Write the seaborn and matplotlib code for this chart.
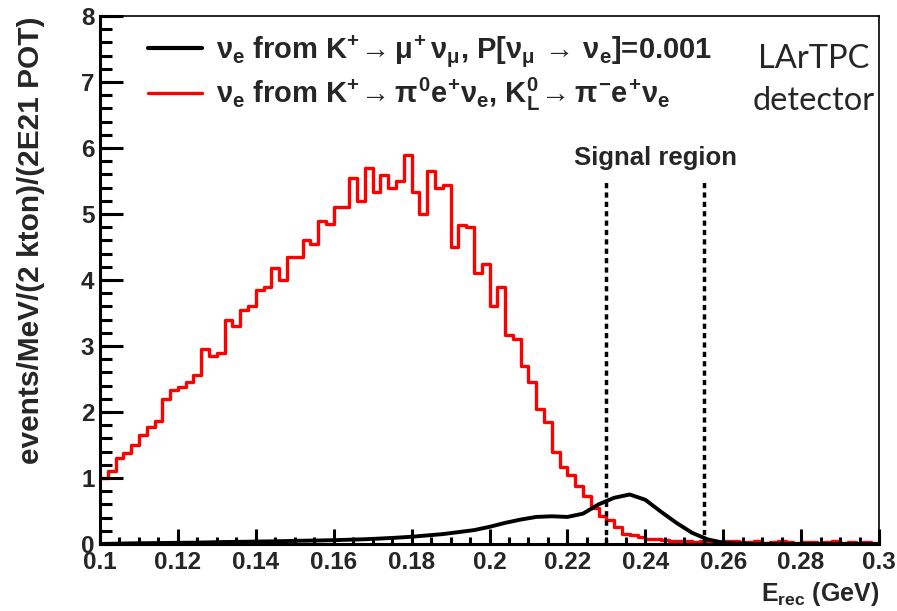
import numpy as np
import pandas as pd
import seaborn as sns
import matplotlib
matplotlib.use("Agg")
import matplotlib.pyplot as plt
from matplotlib.lines import Line2D

# ---------------- data ----------------
e_min, e_max, n_red_bins = 0.1, 0.3, 100
y_max = 8
red_values = [
    1.0, 1.1, 1.3, 1.38, 1.5, 1.65, 1.78, 1.87, 2.2, 2.33,
    2.38, 2.45, 2.56, 2.95, 2.85, 2.9, 3.4, 3.3, 3.55, 3.6,
    3.85, 3.9, 4.18, 4.0, 4.35, 4.35, 4.6, 4.55, 4.9, 4.85,
    5.1, 5.1, 5.55, 5.2, 5.7, 5.34, 5.59, 5.4, 5.5, 5.89,
    5.34, 5.0, 5.65, 5.4, 5.44, 4.5, 4.83, 4.8, 4.1, 4.25,
    3.6, 3.9, 3.17, 3.1, 2.69, 2.45, 2.05, 1.85, 1.4, 1.17,
    1.05, 0.88, 0.72, 0.55, 0.42, 0.36, 0.26, 0.15, 0.13, 0.1,
    0.08, 0.07, 0.06, 0.05, 0.04, 0.05, 0.03, 0.04, 0.04, 0.03,
    0.05, 0.04, 0.03, 0.03, 0.04, 0.02, 0.03, 0.04, 0.03, 0.02,
    0.03, 0.03, 0.02, 0.03, 0.04, 0.02, 0.03, 0.02, 0.03, 0.02,
]
black_energy_step = 0.004
black_values = [
    0.0, 0.005, 0.01, 0.012, 0.015, 0.018, 0.02, 0.025, 0.03, 0.033,
    0.037, 0.04, 0.045, 0.05, 0.053, 0.058, 0.065, 0.072, 0.083, 0.095,
    0.11, 0.13, 0.15, 0.18, 0.21, 0.26, 0.32, 0.37, 0.41, 0.42,
    0.41, 0.46, 0.60, 0.70, 0.75, 0.67, 0.49, 0.32, 0.17, 0.07,
    0.02, 0.005, 0.0, 0.0, 0.0, 0.0, 0.0, 0.0, 0.0, 0.0, 0.0,
]
signal_region = [0.23, 0.255]
signal_top = 5.52
x_ticks = [0.1, 0.12, 0.14, 0.16, 0.18, 0.2, 0.22, 0.24, 0.26, 0.28, 0.3]
x_ticklabels = ["0.1", "0.12", "0.14", "0.16", "0.18", "0.2", "0.22",
                "0.24", "0.26", "0.28", "0.3"]
x_minor_step = 0.005
y_ticks = [0, 1, 2, 3, 4, 5, 6, 7, 8]
y_ticklabels = ["0", "1", "2", "3", "4", "5", "6", "7", "8"]
y_minor_step = 0.2
label_black = (r"$\nu_{e}$ from K$^{+}\!\rightarrow\mu^{+}\,\nu_{\mu}$, "
               r"P[$\nu_{\mu}\,\rightarrow\,\nu_{e}$]=0.001")
label_red = (r"$\nu_{e}$ from K$^{+}\!\rightarrow\pi^{0}e^{+}\nu_{e}$, "
             r"K$^{0}_{L}\!\rightarrow\pi^{-}e^{+}\nu_{e}$")

bin_w = (e_max - e_min) / n_red_bins
centers = e_min + bin_w * (np.arange(n_red_bins) + 0.5)
red_df = pd.DataFrame({"E": centers, "w": red_values})
black_df = pd.DataFrame({
    "E": e_min + black_energy_step * np.arange(len(black_values)),
    "v": black_values,
})

# ---------------- style ----------------
sns.set_theme(style="ticks")
plt.rcParams.update({
    "font.family": ["Liberation Sans", "DejaVu Sans"],
    "font.weight": "bold",
    "mathtext.fontset": "custom",
    "mathtext.rm": "Liberation Sans:bold",
    "mathtext.it": "Liberation Sans:bold",
    "mathtext.bf": "Liberation Sans:bold",
    "axes.axisbelow": False,
})

ax_w_px, ax_h_px = 779, 528
fig = plt.figure(figsize=(8.97, 6.11), dpi=100)
fig.patch.set_facecolor("white")
ax = fig.add_axes([100 / 897, 1 - 544 / 611, ax_w_px / 897, ax_h_px / 611])

sns.histplot(data=red_df, x="E", weights="w", bins=n_red_bins,
             binrange=(e_min, e_max), element="step",
             fill=False, color="#ff0000", linewidth=2.4, ax=ax)
sns.lineplot(data=black_df, x="E", y="v", color="black", linewidth=2.8, ax=ax)

ax.vlines(signal_region, 0, signal_top, colors="black", linewidth=2.5,
          linestyles=[(0, (1.5, 1.2))])

for side in ["left", "bottom"]:
    ax.spines[side].set_visible(True)
    ax.spines[side].set_linewidth(2.2)
    ax.spines[side].set_color("black")
for side in ["top", "right"]:
    ax.spines[side].set_visible(True)
    ax.spines[side].set_linewidth(1.2)
    ax.spines[side].set_color("black")

# ROOT-style inward tick marks, drawn as NaN-separated line segments
y_per_px = y_max / ax_h_px
x_per_px = (e_max - e_min) / ax_w_px
x_minor = e_min + x_minor_step * np.arange(round((e_max - e_min) / x_minor_step) + 1)
y_minor = y_minor_step * np.arange(round(y_max / y_minor_step) + 1)


def x_tick_segments(xs, length_px):
    xs = np.asarray(xs, dtype=float)
    px = np.column_stack([xs, xs, np.full_like(xs, np.nan)]).ravel()
    py = np.column_stack([np.zeros_like(xs), np.full_like(xs, length_px * y_per_px),
                          np.full_like(xs, np.nan)]).ravel()
    return px, py


def y_tick_segments(ys, length_px):
    ys = np.asarray(ys, dtype=float)
    px = np.column_stack([np.full_like(ys, e_min),
                          np.full_like(ys, e_min + length_px * x_per_px),
                          np.full_like(ys, np.nan)]).ravel()
    py = np.column_stack([ys, ys, np.full_like(ys, np.nan)]).ravel()
    return px, py


for segs in [x_tick_segments(x_minor, 7), x_tick_segments(x_ticks, 15),
             y_tick_segments(y_minor, 12), y_tick_segments(y_ticks, 23)]:
    ax.plot(segs[0], segs[1], color="black", linewidth=2.2,
            solid_capstyle="butt", zorder=6, clip_on=False)

ax.set_xlim(e_min, e_max)
ax.set_ylim(0, y_max)
ax.set_xticks(x_ticks)
ax.set_xticklabels(x_ticklabels)
ax.set_yticks(y_ticks)
ax.set_yticklabels(y_ticklabels)
ax.tick_params(axis="both", which="both", length=0, bottom=True, left=True,
               top=False, right=False)
ax.tick_params(axis="x", labelsize=17.5, pad=5)
ax.tick_params(axis="y", labelsize=17.5, pad=4)
for lab in ax.get_xticklabels() + ax.get_yticklabels():
    lab.set_fontweight("bold")

ax.set_xlabel(r"E$_{rec}$ (GeV)", fontsize=18, fontweight="bold",
              loc="right", labelpad=4)
ax.set_ylabel("events/MeV/(2 kton)/(2E21 POT)", fontsize=21.5,
              fontweight="bold", loc="top", labelpad=26)

handles = [Line2D([0], [0], color="black", linewidth=3),
           Line2D([0], [0], color="#ff0000", linewidth=2.4)]
leg = ax.legend(handles, [label_black, label_red], loc="upper left",
                bbox_to_anchor=(0.036, 1.006), frameon=False,
                prop={"family": "Liberation Sans", "weight": "bold", "size": 21},
                handlelength=1.85, handletextpad=0.45, labelspacing=0.22,
                borderpad=0.2)

ax.text(0.2425, 5.85, "Signal region", ha="center", va="center",
        fontsize=18.5, fontweight="bold")
ax.text(0.2832, 7.03, "LArTPC\ndetector", ha="center", va="center",
        fontsize=23.5, fontweight="normal", family=["Lato", "DejaVu Sans"],
        linespacing=1.5)

fig.savefig("out.png", dpi=100, facecolor="white")
